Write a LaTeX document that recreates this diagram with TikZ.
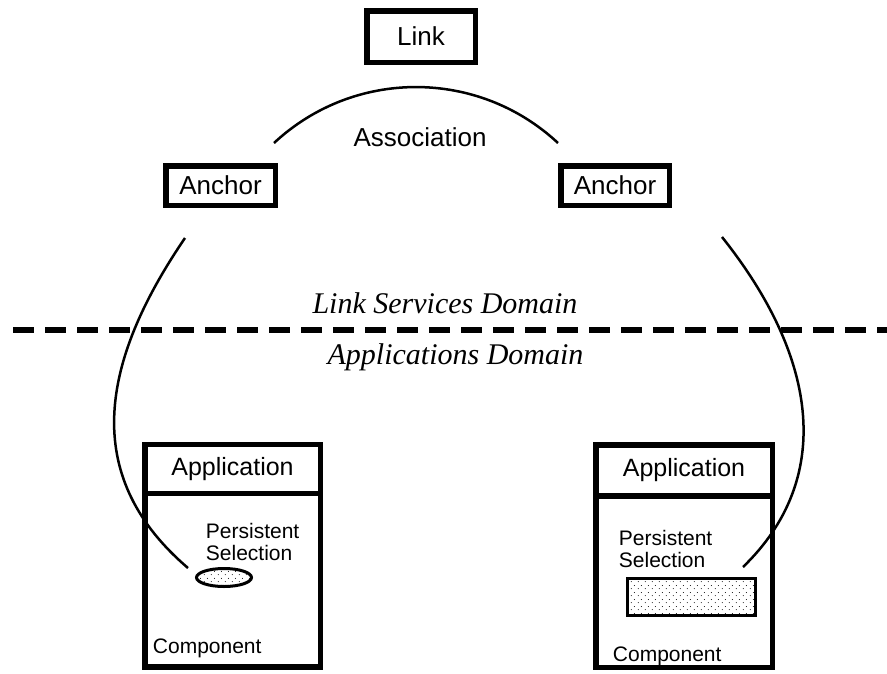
\documentclass[tikz,border=0pt]{standalone}
\usepackage{fontspec}
\setmainfont{Liberation Sans}
\newfontfamily\domainfont{Liberation Serif}
\usepackage{tikz}
\usetikzlibrary{shapes.geometric, positioning, patterns.meta}

\tikzdeclarepattern{
  name=stipple,
  type=uncolored,
  bottom left={(0pt,0pt)},
  top right={(7pt,7pt)},
  tile size={(7pt,7pt)},
  code={
    \fill (1.5pt,1.5pt) circle (.55pt);
    \fill (5pt,5pt) circle (.55pt);
  }
}

\tikzset{
  thickbox/.style={draw, line width=5.5pt, rectangle, inner sep=0pt, font=\fontsize{26}{30}\selectfont},
  appbox/.style={draw, line width=5.5pt, rectangle, outer sep=0pt, inner sep=0pt, font=\fontsize{25}{28}\selectfont},
  small/.style={inner sep=0pt, font=\fontsize{21}{22.5}\selectfont, align=left},
  domainlabel/.style={inner sep=0pt, anchor=base, font=\domainfont\itshape\fontsize{30}{32}\selectfont},
  wire/.style={line width=2.5pt},
  sel/.style={draw, line width=3pt, pattern=stipple, pattern color=black, inner sep=0pt}
}

\begin{document}
\begin{tikzpicture}[x=1pt, y=-1pt]
\useasboundingbox (0,0) rectangle (887,673);

\node[thickbox, minimum width=108.5pt, minimum height=51.5pt] (link) at (421,36.5) {Link};
\node[thickbox, minimum width=109.5pt, minimum height=39.5pt] (ancL) at (220.5,185.5) {Anchor};
\node[thickbox, minimum width=108.5pt, minimum height=39.5pt] (ancR) at (615,185.5) {Anchor};

% Association arc between the anchors
\coordinate (arcL) at ([shift={(-4,-20)}]ancL.north east);
\coordinate (arcR) at ([shift={(0,-20)}]ancR.north west);
\draw[wire] (arcL) .. controls (354,68.4) and (478,68.4) .. (arcR);
\node[inner sep=0pt, anchor=base, font=\fontsize{26}{30}\selectfont] (assoc) at (420,146) {Association};

% Domain boundary
\node[domainlabel] (lsd) at (445,313) {Link Services Domain};
\node[domainlabel] (apd) at (455.5,364) {Applications Domain};
\draw[line width=5.5pt, dash pattern=on 21pt off 11pt] (13,330) -- (887,330);

% Left application
\node[appbox, minimum width=175.5pt, minimum height=48.75pt] (appL) at (232.5,469.1) {Application};
\node[appbox, minimum width=175.5pt, minimum height=173.75pt, below=0pt of appL] (compL) {};
\node[small, anchor=north west] (psL) at ([shift={(61,29.5)}]compL.north west) {Persistent\\Selection};
\node[sel, ellipse, minimum width=55pt, minimum height=18pt] (selL) at (224,577.5) {};
\node[small, anchor=base west] (cmpL) at ([shift={(8,-14)}]compL.south west) {Component};

% Right application
\node[appbox, minimum width=176.5pt, minimum height=51.25pt] (appR) at (684,470.4) {Application};
\node[appbox, minimum width=176.5pt, minimum height=171.25pt, below=0pt of appR] (compR) {};
\node[small, anchor=north west] (psR) at ([shift={(23,34)}]compR.north west) {Persistent\\Selection};
\node[sel, rectangle, minimum width=128pt, minimum height=37pt] (selR) at (691.5,597) {};
\node[small, anchor=base west] (cmpR) at ([shift={(17,-6)}]compR.south west) {Component};

% Anchors reach down to the selections
\coordinate (topL) at ([shift={(-35.5,30)}]ancL.south);
\coordinate (endL) at ([shift={(-7,-9.5)}]selL.west);
\draw[wire] (topL) .. controls (95,370) and (85,480) .. (endL);
\coordinate (topR) at ([shift={(107,29)}]ancR.south);
\coordinate (endR) at ([shift={(-14,-10)}]selR.north east);
\draw[wire] (topR) .. controls (820,360) and (833,480) .. (endR);
\end{tikzpicture}
\end{document}
